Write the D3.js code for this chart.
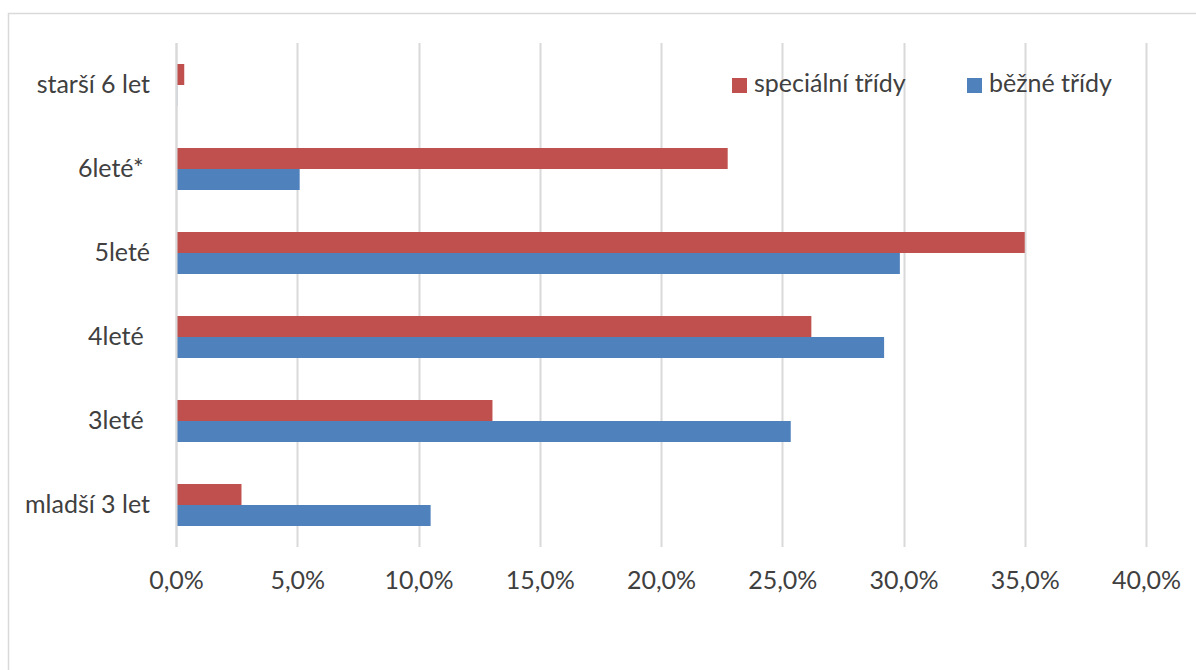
<!DOCTYPE html>
<html>
<head>
<meta charset="utf-8">
<script src="https://cdn.jsdelivr.net/npm/d3@7"></script>
<style>
  html, body { margin: 0; padding: 0; background: #fff; }
  svg text { font-family: Lato, "Open Sans", sans-serif; fill: #404040; white-space: pre; }
</style>
</head>
<body>
<svg id="chart" width="1196" height="670"></svg>
<script>
const categories = ["starší 6 let", "6leté* ", "5leté", "4leté ", "3leté ", "mladší 3 let"];
const seriesNames = ["speciální třídy", "běžné třídy"];
const specialni = [0.34, 22.75, 35.0, 26.2, 13.05, 2.7];
const bezne = [0.05, 5.1, 29.85, 29.2, 25.35, 10.5];
const tickValues = [0, 5, 10, 15, 20, 25, 30, 35, 40];
const colors = ["#C0504D", "#4F81BD"];

const FS = 25;
const svg = d3.select("#chart");
const margin = { left: 176, right: 50, top: 43, bottom: 123 };
const W = 1196, H = 670;

// outer border (top and left visible)
svg.append("path")
  .attr("d", `M8.5,${H} L8.5,13.5 L${W},13.5`)
  .attr("fill", "none").attr("stroke", "#d9d9d9").attr("stroke-width", 1.5);

const x = d3.scaleLinear().domain([0, 40]).range([margin.left, 1146]);
const y = d3.scaleBand().domain(categories).range([margin.top, H - margin.bottom]).paddingInner(0.5).paddingOuter(0.25);
const sub = d3.scaleBand().domain(seriesNames).range([0, y.bandwidth()]);

// gridlines
svg.append("g").selectAll("line").data(tickValues).join("line")
  .attr("x1", d => Math.round(x(d)) + 0.5).attr("x2", d => Math.round(x(d)) + 0.5)
  .attr("y1", margin.top).attr("y2", H - margin.bottom)
  .attr("stroke", "#d9d9d9").attr("stroke-width", 2);

// x axis labels
const xAxis = d3.axisBottom(x).tickValues(tickValues)
  .tickFormat(d => d3.format(".1f")(d).replace(".", ",") + "%")
  .tickSize(0).tickPadding(0);
const gx = svg.append("g").attr("transform", `translate(0, 589)`).call(xAxis);
gx.select(".domain").remove();
gx.selectAll("text").attr("font-size", FS).attr("dy", "0").attr("y", 0)
  .style("font-family", "Lato, 'Open Sans', sans-serif").style("fill", "#404040");

// y axis labels
const yAxis = d3.axisLeft(y).tickSize(0).tickPadding(0);
const gy = svg.append("g").attr("transform", `translate(150, 0)`).call(yAxis);
gy.select(".domain").remove();
gy.selectAll("text").attr("font-size", FS).attr("dy", "0.3em")
  .style("font-family", "Lato, 'Open Sans', sans-serif").style("fill", "#404040");

// bars
const data = categories.map((c, i) => ({ c, vals: [specialni[i], bezne[i]] }));
const groups = svg.append("g").selectAll("g").data(data).join("g")
  .attr("transform", d => `translate(0, ${y(d.c)})`);
groups.selectAll("rect").data(d => d.vals.map((v, j) => ({ v, s: seriesNames[j], j }))).join("rect")
  .attr("x", x(0))
  .attr("y", d => sub(d.s))
  .attr("width", d => x(d.v) - x(0))
  .attr("height", sub.bandwidth())
  .attr("fill", d => colors[d.j]);

// baseline axis line
svg.append("line").attr("x1", x(0) + 0.5).attr("x2", x(0) + 0.5)
  .attr("y1", margin.top).attr("y2", H - margin.bottom)
  .attr("stroke", "#d9d9d9").attr("stroke-width", 2);

// legend
const legendX = [732, 967];
const lg = svg.append("g").selectAll("g").data(seriesNames).join("g")
  .attr("transform", (d, i) => `translate(${legendX[i]}, 78)`);
lg.append("rect").attr("width", 15).attr("height", 15).attr("fill", (d, i) => colors[i]);
lg.append("text").attr("x", 22).attr("y", 14)
  .attr("font-size", FS).text(d => d);
</script>
</body>
</html>
